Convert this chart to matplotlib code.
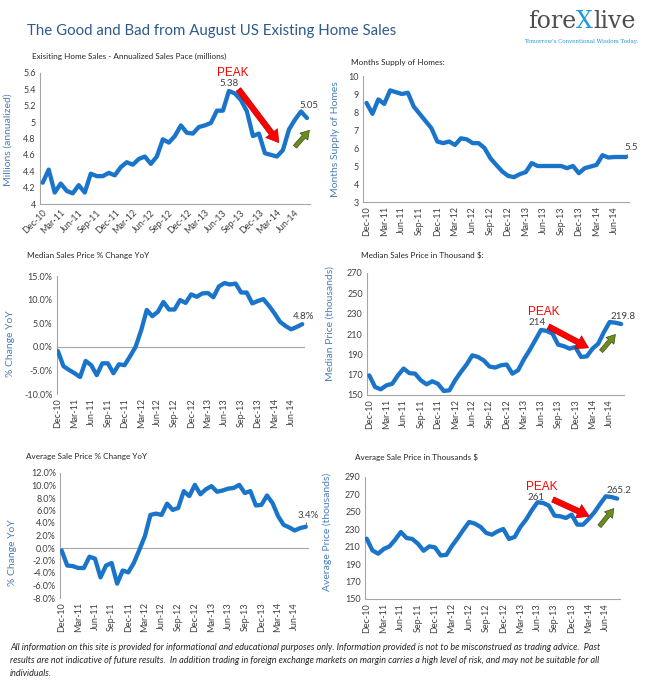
import matplotlib
matplotlib.use("Agg")
import matplotlib.pyplot as plt
import pandas as pd

# monthly, Dec-10 .. Aug-14
months = pd.date_range("2010-12-01", periods=45, freq="MS").strftime("%b-%y").tolist()

home_sales = [4.26, 4.42, 4.14, 4.25, 4.16, 4.13, 4.23, 4.14, 4.37, 4.34, 4.34, 4.38,
              4.35, 4.45, 4.51, 4.48, 4.55, 4.58, 4.49, 4.58, 4.79, 4.75, 4.83, 4.96,
              4.87, 4.86, 4.94, 4.96, 4.99, 5.14, 5.14, 5.38, 5.35, 5.27, 5.13, 4.83,
              4.86, 4.62, 4.60, 4.58, 4.66, 4.91, 5.03, 5.13, 5.05]

months_supply = [8.5, 7.9, 8.7, 8.45, 9.2, 9.1, 9.0, 9.07, 8.3, 7.9, 7.5, 7.1,
                 6.36, 6.27, 6.36, 6.17, 6.54, 6.48, 6.27, 6.27, 6.0, 5.43, 5.06, 4.7,
                 4.45, 4.38, 4.55, 4.66, 5.16, 5.0, 5.0, 5.0, 5.0, 5.0, 4.88, 5.0,
                 4.6, 4.88, 4.97, 5.06, 5.6, 5.47, 5.5, 5.5, 5.5]

median_yoy = [-0.9, -4.1, -4.9, -5.6, -6.4, -3.0, -3.9, -6.0, -3.5, -3.5, -5.6, -3.7,
              -3.9, -2.0, 0.0, 3.5, 7.8, 6.5, 7.4, 9.5, 7.9, 7.9, 9.9, 9.3,
              11.1, 10.6, 11.3, 11.4, 10.5, 12.8, 13.5, 13.2, 13.4, 11.5, 11.5, 9.2,
              9.7, 10.1, 8.7, 7.1, 5.3, 4.4, 3.7, 4.2, 4.8]

median_price = [169.3, 157.9, 155.6, 159.5, 161.0, 169.3, 176.0, 171.5, 171.0, 164.5, 160.5, 163.5,
                161.0, 154.0, 154.6, 164.5, 172.6, 180.0, 189.0, 187.4, 184.0, 178.0, 177.0, 179.2,
                180.0, 171.0, 174.4, 185.0, 194.0, 204.0, 214.0, 213.0, 210.4, 199.5, 198.0, 195.6,
                197.2, 187.4, 188.0, 195.6, 200.5, 212.0, 221.8, 221.1, 219.8]

average_yoy = [-0.4, -2.8, -2.9, -3.2, -3.2, -1.4, -1.7, -4.7, -2.8, -2.4, -5.7, -3.6,
               -3.9, -2.4, -0.3, 1.9, 5.3, 5.5, 5.3, 7.1, 6.1, 6.4, 9.1, 8.3,
               10.1, 8.6, 9.4, 9.9, 9.0, 9.2, 9.5, 9.6, 10.1, 8.8, 9.1, 6.8,
               6.9, 8.4, 7.2, 5.1, 3.7, 3.3, 2.8, 3.2, 3.4]

average_price = [219.2, 205.8, 202.0, 207.4, 210.4, 218.0, 226.9, 220.0, 218.9, 213.4, 205.4, 210.4,
                 209.2, 200.0, 200.7, 211.1, 220.0, 229.6, 238.4, 236.5, 232.7, 225.8, 223.8, 227.7,
                 230.3, 218.9, 221.2, 232.7, 241.1, 251.8, 261.0, 260.2, 257.1, 245.7, 244.9, 243.0,
                 246.8, 235.3, 235.3, 241.8, 249.5, 259.0, 267.8, 267.0, 265.2]

FONT = ["Lato", "DejaVu Sans"]
plt.rcParams["font.family"] = FONT

LINE = "#1A75CA"
AXIS_BLUE = "#4A7EBB"
SPINE = "#A6A6A6"
TEXT = "#404040"

W, H = 650, 692
fig = plt.figure(figsize=(W / 100, H / 100), dpi=100)
fig.patch.set_facecolor("white")


def px_axes(l, t, r, b):
    return fig.add_axes([l / W, 1 - b / H, (r - l) / W, (b - t) / H])


def panel(box, x0, values, ylim, yticks, yfmt, ylabel, ylab_pos, subtitle, sub_pos,
          rot=90, zero=False):
    ax = px_axes(*box)
    x = list(range(len(values)))
    ax.plot(x, values, color=LINE, lw=3.1, solid_capstyle="round", solid_joinstyle="round", zorder=3)
    ax.set_xlim(x0, len(values) - 0.5)
    ax.set_ylim(*ylim)
    ax.set_yticks(yticks)
    ax.set_yticklabels([yfmt(v) for v in yticks])
    ax.set_xticks(x[::3])
    if rot == 45:
        ax.set_xticklabels(months[::3], rotation=45, ha="right", va="top", rotation_mode="anchor")
    else:
        ax.set_xticklabels(months[::3], rotation=90)
    for s in ["top", "right"]:
        ax.spines[s].set_visible(False)
    for s in ["left", "bottom"]:
        ax.spines[s].set_color(SPINE)
        ax.spines[s].set_linewidth(0.8)
    if zero:
        ax.spines["bottom"].set_visible(False)
        ax.axhline(0, color=SPINE, lw=0.8, zorder=1)
    ax.tick_params(axis="y", length=0, pad=3, labelsize=6.5, labelcolor=TEXT)
    ax.tick_params(axis="x", length=0, pad=3, labelsize=6.5, labelcolor=TEXT)
    ax.set_ylabel(ylabel, color=AXIS_BLUE, fontsize=7.5)
    ax.yaxis.set_label_coords(*ylab_pos)
    fig.text(sub_pos[0] / W, 1 - sub_pos[1] / H, subtitle, fontsize=5.9, color="#262626", va="center")
    return ax


def end_label(ax, text, xy, xytext):
    ax.annotate(text, xy=xy, xytext=xytext, fontsize=7, color=TEXT, ha="center", va="center",
                arrowprops=dict(arrowstyle="-", color="#595959", lw=0.6, shrinkA=3, shrinkB=1))


def peak(ax, label, label_xy, peak_xy, red, green):
    ax.text(*label_xy, label, fontsize=7, color=TEXT, ha="center", va="center")
    ax.text(*peak_xy, "PEAK", fontsize=8.5, color="#FF0000", ha="center", va="center",
            family=["Liberation Sans", "DejaVu Sans"])
    ax.annotate("", xy=red[1], xytext=red[0],
                arrowprops=dict(arrowstyle="simple,head_width=1.05,head_length=0.85,tail_width=0.4",
                                fc="#FF0000", ec="#C00000", lw=0.5, shrinkA=0, shrinkB=0,
                                mutation_scale=10))
    ax.annotate("", xy=green[1], xytext=green[0],
                arrowprops=dict(arrowstyle="simple,head_width=0.75,head_length=0.6,tail_width=0.3",
                                fc="#6E8B1E", ec="#3D5214", lw=0.5, shrinkA=0, shrinkB=0,
                                mutation_scale=10))


# title and logo
fig.text(27 / W, 1 - 31 / H, "The Good and Bad from August US Existing Home Sales",
         fontsize=10.8, color="#2E5A8C", va="center")

renderer = fig.canvas.get_renderer()
lx = 528 / W
ly = 1 - 28 / H
t1 = fig.text(lx, ly, "fore", fontsize=17, color="#4D4D4D", family=["DejaVu Serif"], va="baseline")
w1 = t1.get_window_extent(renderer).width / W
t2 = fig.text(lx + w1, ly, "X", fontsize=17, color="#1E9BD7", family=["DejaVu Serif"], va="baseline")
w2 = t2.get_window_extent(renderer).width / W
fig.text(lx + w1 + w2, ly, "live", fontsize=17, color="#4D4D4D", family=["DejaVu Serif"], va="baseline")
fig.text(581 / W, 1 - 42 / H, "Tomorrow's Conventional Wisdom Today.", fontsize=4.0,
         color="#1E9BD7", family=["DejaVu Serif"], ha="center", va="center")

pct = lambda v: f"{v:.1f}%"
gen = lambda v: f"{v:g}"

# panel 1
ax1 = panel((40, 73, 310, 204), -0.45, home_sales, (4, 5.6), [4 + 0.2 * i for i in range(9)],
            lambda v: f"{round(v, 1):g}", "Millions (annualized)", (-0.1, 0.49),
            "Exisiting Home Sales - Annualized Sales Pace (millions)", (32, 56), rot=45)
peak(ax1, "5.38", (31, 5.47), (31.6, 5.6), ((32.6, 5.40), (39.3, 4.75)), ((42.0, 4.70), (44.4, 4.90)))
end_label(ax1, "5.05", (44, 5.05), (44.4, 5.2))

# panel 2
ax2 = panel((363, 76, 629, 202), -0.6, months_supply, (3, 10), list(range(3, 11)), gen,
            "Months Supply of Homes", (-0.086, 0.5), "Months Supply of Homes:", (351, 62))
end_label(ax2, "5.5", (44, 5.5), (44.9, 6.05))

# panel 3
ax3 = panel((56.5, 276, 305, 394), -0.25, median_yoy, (-10, 15), [-10, -5, 0, 5, 10, 15], pct,
            "% Change YoY", (-0.167, 0.43), "Median Sales Price % Change YoY", (27, 255), zero=True)
ax3.text(44.2, 6.4, "4.8%", fontsize=7, color=TEXT, ha="center", va="center")

# panel 4
ax4 = panel((367, 273, 624, 395), -0.4, median_price, (150, 270), list(range(150, 271, 20)), gen,
            "Median Price (thousands)", (-0.125, 0.59), "Median Sales Price in Thousand $:", (361, 255))
peak(ax4, "214", (29.4, 221.0), (30.4, 231.5), ((31.3, 217.4), (38.3, 196.4)), ((40.5, 193.1), (43.0, 209.5)))
ax4.text(44.4, 227.4, "219.8", fontsize=7, color=TEXT, ha="center", va="center")

# panel 5
ax5 = panel((60, 473, 308.6, 598), -0.3, average_yoy, (-8, 12), list(range(-8, 13, 2)), pct,
            "% Change YoY", (-0.173, 0.36), "Average Sale Price % Change YoY", (26, 456), zero=True)
end_label(ax5, "3.4%", (44, 3.4), (44.4, 5.2))

# panel 6
ax6 = panel((365, 477, 620, 599), -0.3, average_price, (150, 290), list(range(150, 291, 20)), gen,
            "Average Price (thousands)", (-0.13, 0.55), "Average Sale Price in Thousands $", (355, 457))
peak(ax6, "261", (29.7, 266.5), (30.7, 278), ((32.7, 264.2), (39.1, 245)), ((40.9, 233.5), (43.4, 253.8)))
ax6.text(44.3, 274.8, "265.2", fontsize=7, color=TEXT, ha="center", va="center")

# footer
footer = [
    "All information on this site is provided for informational and educational purposes only. Information provided is not to be misconstrued as trading advice.  Past",
    "results are not indicative of future results.  In addition trading in foreign exchange markets on margin carries a high level of risk, and may not be suitable for all",
    "individuals.",
]
for i, line in enumerate(footer):
    fig.text(10 / W, 1 - (648 + 12.5 * i) / H, line, fontsize=6.5, style="italic", color="#262626", va="center")

fig.savefig("out.png", dpi=100)
